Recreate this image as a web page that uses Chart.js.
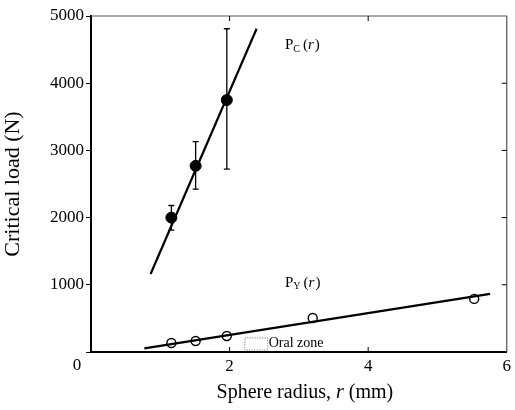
<!DOCTYPE html>
<html>
<head>
<meta charset="utf-8">
<script src="https://cdn.jsdelivr.net/npm/chart.js@4"></script>
<style>
  html, body { margin: 0; padding: 0; background: #fff; }
  #wrap { width: 515px; height: 410px; }
</style>
</head>
<body>
<div id="wrap"><canvas id="loadChart"></canvas></div>
<script>
// P_C(r): critical load for cone cracking, with error bars
const pcRadius = [1.16, 1.51, 1.96];
const pcLoad = [2000, 2770, 3750];
const pcErrLow = [1815, 2425, 2720];
const pcErrHigh = [2180, 3130, 4810];
// fitted line through P_C
const pcFitX = [0.86, 2.39];
const pcFitY = [1160, 4810];

// P_Y(r): yield load
const pyRadius = [1.16, 1.51, 1.96, 3.2, 5.53];
const pyLoad = [134, 164, 238, 506, 790];
const pyFitX = [0.77, 5.76];
const pyFitY = [55, 865];

const yTicks = [1000, 2000, 3000, 4000, 5000];
const xTicks = [2, 4, 6];

const SERIF = '"Liberation Serif", "DejaVu Serif", serif';

// error bars, frame, inner ticks and labels
const decorations = {
    id: 'decorations',
    afterDatasetsDraw(chart) {
        const { ctx, chartArea: a, scales: { x, y } } = chart;
        ctx.save();
        ctx.strokeStyle = '#000';

        // error bars
        ctx.lineWidth = 1.3;
        pcRadius.forEach((r, i) => {
            const px = x.getPixelForValue(r);
            const top = y.getPixelForValue(pcErrHigh[i]);
            const bot = y.getPixelForValue(pcErrLow[i]);
            ctx.beginPath();
            ctx.moveTo(px, top); ctx.lineTo(px, bot);
            ctx.moveTo(px - 3, top); ctx.lineTo(px + 3, top);
            ctx.moveTo(px - 3, bot); ctx.lineTo(px + 3, bot);
            ctx.stroke();
        });

        // top and right frame
        ctx.lineWidth = 1.2;
        ctx.strokeStyle = '#555';
        ctx.beginPath();
        ctx.moveTo(a.left, a.top); ctx.lineTo(a.right, a.top); ctx.lineTo(a.right, a.bottom);
        ctx.stroke();

        // inward ticks on bottom, top and right
        ctx.strokeStyle = '#000';
        ctx.lineWidth = 1;
        ctx.beginPath();
        [2, 4].forEach(v => {
            const px = x.getPixelForValue(v);
            ctx.moveTo(px, a.bottom); ctx.lineTo(px, a.bottom - 5);
            ctx.moveTo(px, a.top); ctx.lineTo(px, a.top + 5);
        });
        yTicks.slice(0, 4).forEach(v => {
            const py = y.getPixelForValue(v);
            ctx.moveTo(a.right, py); ctx.lineTo(a.right - 5, py);
        });
        ctx.stroke();

        // oral zone box
        const ox1 = x.getPixelForValue(2.22), ox2 = x.getPixelForValue(2.55);
        const oy1 = y.getPixelForValue(210), oy2 = y.getPixelForValue(30);
        ctx.setLineDash([1, 1.5]);
        ctx.lineWidth = 0.8;
        ctx.strokeStyle = '#444';
        ctx.strokeRect(ox1, oy1, ox2 - ox1, oy2 - oy1);
        ctx.setLineDash([]);

        ctx.fillStyle = '#000';
        ctx.textBaseline = 'middle';
        ctx.textAlign = 'left';
        ctx.font = '14px ' + SERIF;
        ctx.fillText('Oral zone', ox2 + 1, y.getPixelForValue(130));

        // series labels with subscripts
        function seriesLabel(sub, vx, vy) {
            let px = x.getPixelForValue(vx);
            const py = y.getPixelForValue(vy);
            ctx.font = '15px ' + SERIF;
            ctx.fillText('P', px, py);
            px += ctx.measureText('P').width;
            ctx.font = '10px ' + SERIF;
            ctx.fillText(sub, px, py + 4);
            px += ctx.measureText(sub).width + 3;
            ctx.font = '15px ' + SERIF;
            ctx.fillText('(', px, py);
            px += ctx.measureText('(').width;
            ctx.font = 'italic 15px ' + SERIF;
            ctx.fillText('r', px, py);
            px += ctx.measureText('r').width + 1;
            ctx.font = '15px ' + SERIF;
            ctx.fillText(')', px, py);
        }
        seriesLabel('C', 2.8, 4570);
        seriesLabel('Y', 2.8, 1030);

        // shared origin label
        ctx.font = '17px ' + SERIF;
        ctx.textAlign = 'center';
        ctx.fillText('0', a.left - 14, a.bottom + 14);

        // x axis title with italic r
        const parts = [['Sphere radius, ', ''], ['r', 'italic '], [' (mm)', '']];
        let total = 0;
        parts.forEach(p => { ctx.font = p[1] + '20px ' + SERIF; total += ctx.measureText(p[0]).width; });
        let tx = (a.left + a.right) / 2 - total / 2 + 6;
        ctx.textAlign = 'left';
        parts.forEach(p => {
            ctx.font = p[1] + '20px ' + SERIF;
            ctx.fillText(p[0], tx, 393);
            tx += ctx.measureText(p[0]).width;
        });
        ctx.restore();
    }
};

const toPts = (xs, ys) => xs.map((v, i) => ({ x: v, y: ys[i] }));

new Chart(document.getElementById('loadChart'), {
    type: 'scatter',
    data: {
        datasets: [{
            label: 'P_C fit',
            type: 'line',
            data: toPts(pcFitX, pcFitY),
            borderColor: '#000',
            borderWidth: 2.2,
            pointRadius: 0,
            fill: false
        }, {
            label: 'P_Y fit',
            type: 'line',
            data: toPts(pyFitX, pyFitY),
            borderColor: '#000',
            borderWidth: 2.2,
            pointRadius: 0,
            fill: false
        }, {
            label: 'P_C',
            data: toPts(pcRadius, pcLoad),
            backgroundColor: '#000',
            borderColor: '#000',
            pointRadius: 5.5
        }, {
            label: 'P_Y',
            data: toPts(pyRadius, pyLoad),
            backgroundColor: '#fff',
            borderColor: '#000',
            borderWidth: 1.4,
            pointRadius: 4.5
        }]
    },
    options: {
        responsive: true,
        maintainAspectRatio: false,
        animation: false,
        layout: { padding: { top: 16, right: 7, left: 0, bottom: 0 } },
        plugins: {
            legend: { display: false },
            tooltip: { enabled: false }
        },
        scales: {
            x: {
                type: 'linear',
                min: 0,
                max: 6,
                afterFit(s) { s.height = 58; },
                afterBuildTicks(s) { s.ticks = [0].concat(xTicks).map(v => ({ value: v })); },
                ticks: {
                    color: '#000',
                    font: { family: SERIF, size: 17 },
                    padding: 4,
                    callback: v => (v === 0 ? '' : v)
                },
                grid: { display: false, drawTicks: false },
                border: { color: '#000', width: 2 }
            },
            y: {
                min: 0,
                max: 5000,
                afterFit(s) { s.width = 91; },
                afterBuildTicks(s) { s.ticks = [0].concat(yTicks).map(v => ({ value: v })); },
                ticks: {
                    color: '#000',
                    font: { family: SERIF, size: 17 },
                    padding: 2,
                    callback: v => (v === 0 ? '' : v)
                },
                grid: { drawOnChartArea: false, tickLength: 5, color: '#000' },
                border: { color: '#000', width: 2 },
                title: {
                    display: true,
                    text: 'Critical load (N)',
                    color: '#000',
                    font: { family: SERIF, size: 22 },
                    padding: { top: 0, bottom: 6 }
                }
            }
        }
    },
    plugins: [decorations]
});
</script>
</body>
</html>
